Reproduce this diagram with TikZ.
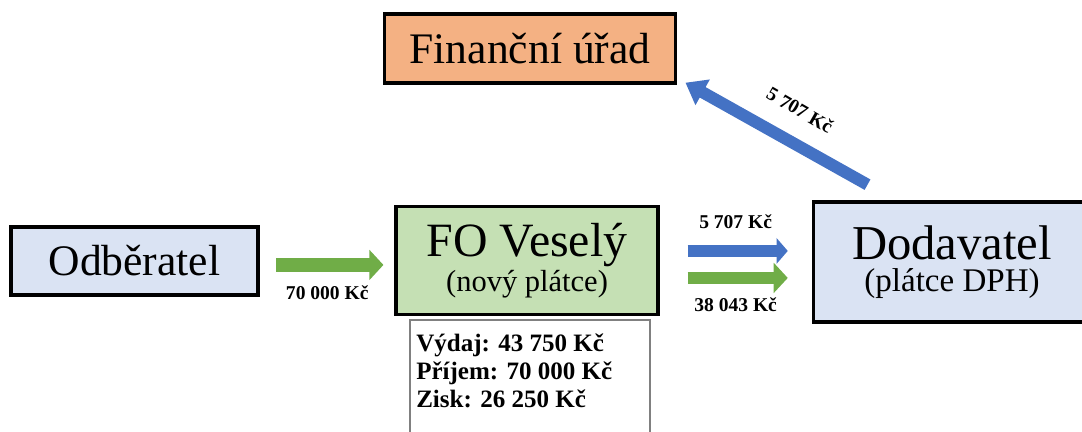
\documentclass[tikz,border=0pt]{standalone}
\usepackage{fontspec}
\setmainfont{Liberation Serif}
\usepackage{xcolor}
\definecolor{oran}{HTML}{F4B183}
\definecolor{lblue}{HTML}{DAE3F3}
\definecolor{lgreen}{HTML}{C5E0B4}
\definecolor{grarr}{HTML}{70AD47}
\definecolor{blarr}{HTML}{4472C4}
\usepackage{tikz}
\usetikzlibrary{arrows.meta, calc}

\begin{document}
\begin{tikzpicture}[x=0.025cm, y=-0.025cm,
  box/.style={draw=black, line width=2.6pt, inner sep=0pt, align=center, font=\fontsize{31}{36}\selectfont},
  lbl/.style={text=black, font=\bfseries\fontsize{13.9}{16}\selectfont, inner sep=1pt},
  grarrow/.style={grarr, line width=10pt, -{Triangle[length=10pt, width=21pt]}},
  blarrow/.style={blarr, line width=9pt, -{Triangle[length=8pt, width=18pt]}}]
\useasboundingbox (0,0) rectangle (1082,432);
\node[box, fill=oran, minimum width=207pt, minimum height=49pt] (fu) at (530,48.5) {Finanční úřad};
\node[box, fill=lblue, minimum width=176pt, minimum height=48pt] (odb) at (134.5,261) {Odběratel};
\node[box, fill=lgreen, minimum width=186pt, minimum height=77pt, font=\fontsize{34}{25}\selectfont] (fo) at (527,260.5) {FO Veselý\\{\fontsize{21.7}{25}\selectfont (nový plátce)}};
\node[box, fill=lblue, minimum width=197pt, minimum height=85pt, font=\fontsize{34.6}{22.8}\selectfont] (dod) at (952,262) {Dodavatel\\{\fontsize{23.5}{22.8}\selectfont (plátce DPH)}};
\draw[gray, line width=0.8pt] (410,320) rectangle (650,450);
\node[anchor=north west, inner sep=0pt, align=left, font=\bfseries\fontsize{17.8}{19.8}\selectfont] (info) at (416,334) {Výdaj: 43~750 Kč\\Příjem: 70~000 Kč\\Zisk: 26~250 Kč};
\draw[grarrow, shorten <=11.4pt, shorten >=7.8pt] ([yshift=-2.8pt]odb.east) -- ([yshift=-2.8pt]odb.east -| fo.west) node[lbl, midway, below=9pt] (l1) {70~000 Kč};
\draw[blarrow, shorten <=20pt, shorten >=17pt] ([yshift=6.8pt]fo.east) -- ([yshift=6.8pt]fo.east -| dod.west) node[lbl, midway, above=10pt] (l2) {5~707 Kč};
\draw[grarrow, line width=8pt, shorten <=20pt, shorten >=17pt] ([yshift=-12.4pt]fo.east) -- ([yshift=-12.4pt]fo.east -| dod.west) node[lbl, midway, below=9pt] (l3) {38~043 Kč};
\draw[blarrow, line width=8.5pt, -{Triangle[length=14pt, width=20pt]}, shorten <=22.9pt, shorten >=6.6pt] ([xshift=59.7pt]dod.north west) -- ([yshift=4.7pt]fu.south east);
\node[lbl, rotate=-30] (l4) at (800,110) {5~707 Kč};
\end{tikzpicture}
\end{document}
